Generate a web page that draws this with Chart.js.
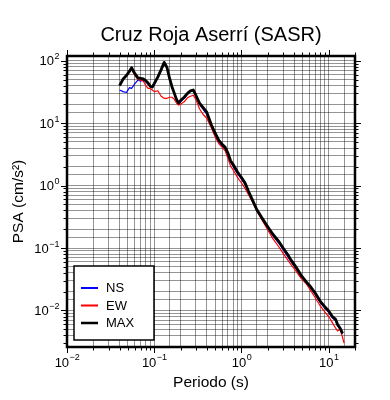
<!DOCTYPE html>
<html>
<head>
<meta charset="utf-8">
<script src="https://cdn.jsdelivr.net/npm/chart.js@4.4.0/dist/chart.umd.min.js"></script>
<style>
  html, body { margin: 0; padding: 0; background: #fff; }
</style>
</head>
<body>
<canvas id="psaChart" width="390" height="400"></canvas>
<script>
const chartTitle = 'Cruz Roja Aserrí (SASR)';
const xTitle = 'Periodo (s)';
const yTitle = 'PSA (cm/s²)';

// Periodos (s)
const periods = [0.040, 0.044, 0.048, 0.052, 0.055, 0.060, 0.065, 0.070, 0.075, 0.080,
  0.085, 0.090, 0.095, 0.100, 0.110, 0.120, 0.130, 0.140, 0.150, 0.160,
  0.170, 0.180, 0.190, 0.200, 0.220, 0.240, 0.260, 0.280, 0.300, 0.330,
  0.360, 0.40, 0.45, 0.50, 0.55, 0.60, 0.65, 0.70, 0.75, 0.80,
  0.90, 1.00, 1.10, 1.20, 1.35, 1.50, 1.70, 2.00, 2.30, 2.70,
  3.00, 3.40, 3.70, 4.20, 4.80, 5.50, 6.20, 7.00, 8.00, 9.00,
  10.0, 11.0, 12.0, 12.6, 13.5, 14.4, 15.0];

// PSA (cm/s2)
const nsValues = [34, 32, 31, 37, 36, 43, 49, 47, 50, 46,
  42, 38, 37, 42, 54, 70, 92, 76, 50, 37,
  29, 23, 20.5, 22, 25, 29, 32, 33, 27, 20,
  17, 14, 9.0, 6.5, 5.0, 4.3, 3.9, 3.1, 2.35, 2.05,
  1.55, 1.27, 1.03, 0.78, 0.55, 0.40, 0.30, 0.21, 0.157, 0.118,
  0.094, 0.073, 0.060, 0.047, 0.035, 0.028, 0.023, 0.018, 0.0133, 0.011,
  0.0093, 0.0076, 0.0068, 0.0057, 0.0050, 0.0042, null];

const ewValues = [40, 51, 58, 66, 72, 58, 50, 49, 47, 40,
  36, 36, 34, 32, 33, 27, 25, 25, 26, 26,
  24, 21, 19.5, 20, 22, 25.5, 27, 28, 24, 17,
  14, 12, 8.5, 6.0, 4.7, 4.1, 3.6, 2.7, 2.05, 1.8,
  1.35, 1.1, 0.9, 0.72, 0.53, 0.39, 0.29, 0.195, 0.14, 0.103,
  0.082, 0.064, 0.054, 0.043, 0.033, 0.027, 0.021, 0.016, 0.0118, 0.0095,
  0.0080, 0.0064, 0.0052, 0.0047, 0.0050, 0.0037, 0.0030];

const maxValues = [40, 51, 58, 68, 77, 62, 53, 52, 51, 48,
  44, 39, 38, 43, 55, 72, 94, 78, 52, 38,
  30, 24, 21, 23, 26, 30, 33, 34, 28, 21,
  18, 15, 9.5, 6.9, 5.3, 4.6, 4.1, 3.3, 2.5, 2.2,
  1.65, 1.35, 1.1, 0.82, 0.57, 0.41, 0.31, 0.22, 0.165, 0.125,
  0.10, 0.078, 0.064, 0.050, 0.037, 0.029, 0.024, 0.019, 0.014, 0.0115,
  0.0098, 0.0080, 0.0072, 0.0060, 0.0052, 0.0043, null];

const xExponents = [-2, -1, 0, 1];
const yExponents = [-2, -1, 0, 1, 2];

const FONT = '"Liberation Sans", Arial, Helvetica, sans-serif';

function toPoints(values) {
    const pts = [];
    periods.forEach((t, i) => {
        if (values[i] !== null) pts.push({ x: t, y: values[i] });
    });
    return pts;
}

function tickValues(scale) {
    const vals = [];
    for (let e = -4; e <= 3; e++) {
        for (let m = 1; m <= 9; m++) {
            const v = m * Math.pow(10, e);
            if (v >= scale.min * 0.999 && v <= scale.max * 1.001) vals.push({ v: v, major: m === 1 });
        }
    }
    return vals;
}

// texto 10^n con exponente
function drawPower(ctx, e, x, y, align) {
    const base = '10';
    const sup = e < 0 ? '\u2212' + Math.abs(e) : String(e);
    ctx.font = '13px ' + FONT;
    const wb = ctx.measureText(base).width;
    ctx.font = '9px ' + FONT;
    const ws = ctx.measureText(sup).width;
    let left;
    if (align === 'center') left = x - (wb + ws) / 2;
    else left = x - (wb + ws);
    ctx.textAlign = 'left';
    ctx.textBaseline = 'middle';
    ctx.font = '13px ' + FONT;
    ctx.fillText(base, left, y);
    ctx.font = '9px ' + FONT;
    ctx.fillText(sup, left + wb + 0.5, y - 5);
}

const framePlugin = {
    id: 'framePlugin',
    afterDraw(chart) {
        const ctx = chart.ctx;
        const a = chart.chartArea;
        const xs = chart.scales.x;
        const ys = chart.scales.y;
        ctx.save();
        ctx.fillStyle = '#000';
        ctx.strokeStyle = '#000';

        // marcas exteriores
        ctx.lineWidth = 1;
        ctx.beginPath();
        tickValues(xs).forEach(t => {
            const px = Math.round(xs.getPixelForValue(t.v)) + 0.5;
            const len = t.major ? 6 : 3.5;
            ctx.moveTo(px, a.bottom); ctx.lineTo(px, a.bottom + len);
            ctx.moveTo(px, a.top); ctx.lineTo(px, a.top - len);
        });
        tickValues(ys).forEach(t => {
            const py = Math.round(ys.getPixelForValue(t.v)) + 0.5;
            const len = t.major ? 6 : 3.5;
            ctx.moveTo(a.left, py); ctx.lineTo(a.left - len, py);
            ctx.moveTo(a.right, py); ctx.lineTo(a.right + len, py);
        });
        ctx.stroke();

        // marco
        ctx.lineWidth = 2.5;
        ctx.strokeRect(a.left, a.top, a.right - a.left, a.bottom - a.top);

        // etiquetas
        xExponents.forEach(e => {
            drawPower(ctx, e, xs.getPixelForValue(Math.pow(10, e)), a.bottom + 16, 'center');
        });
        yExponents.forEach(e => {
            drawPower(ctx, e, a.left - 8, ys.getPixelForValue(Math.pow(10, e)) + 1, 'right');
        });

        // titulos
        ctx.textAlign = 'center';
        ctx.textBaseline = 'alphabetic';
        ctx.font = '20px ' + FONT;
        ctx.fillText(chartTitle, (a.left + a.right) / 2, 41);
        ctx.font = '15.5px ' + FONT;
        ctx.fillText(xTitle, (a.left + a.right) / 2, 387);
        ctx.save();
        ctx.translate(23, (a.top + a.bottom) / 2);
        ctx.rotate(-Math.PI / 2);
        ctx.fillText(yTitle, 0, 0);
        ctx.restore();

        // leyenda
        ctx.fillStyle = '#fff';
        ctx.fillRect(74, 266, 80, 74);
        ctx.lineWidth = 1.5;
        ctx.strokeStyle = '#000';
        ctx.strokeRect(74, 266, 80, 74);
        const legendOrder = ['NS', 'EW', 'MAX'];
        legendOrder.forEach((lbl, i) => {
            const ds = chart.data.datasets.find(d => d.label === lbl);
            const ly = 288 + i * 17.5;
            ctx.strokeStyle = ds.borderColor;
            ctx.lineWidth = lbl === 'MAX' ? 2.5 : 2;
            ctx.beginPath();
            ctx.moveTo(81, ly); ctx.lineTo(98, ly);
            ctx.stroke();
            ctx.fillStyle = '#000';
            ctx.font = '13px ' + FONT;
            ctx.textAlign = 'left';
            ctx.textBaseline = 'middle';
            ctx.fillText(lbl, 106, ly + 0.5);
        });
        ctx.restore();
    }
};

const ctx = document.getElementById('psaChart').getContext('2d');
new Chart(ctx, {
    type: 'line',
    data: {
        datasets: [
            { label: 'NS', data: toPoints(nsValues), borderColor: '#0000ff', borderWidth: 1.2, order: 3 },
            { label: 'EW', data: toPoints(ewValues), borderColor: '#ff0000', borderWidth: 1.2, order: 2 },
            { label: 'MAX', data: toPoints(maxValues), borderColor: '#000000', borderWidth: 2.8, order: 1 }
        ]
    },
    options: {
        responsive: false,
        animation: false,
        layout: { padding: { top: 56, right: 35, left: 0, bottom: 0 } },
        elements: {
            point: { radius: 0 },
            line: { tension: 0, fill: false, borderJoinStyle: 'round' }
        },
        plugins: {
            legend: { display: false },
            title: { display: false },
            tooltip: { enabled: false }
        },
        scales: {
            x: {
                type: 'logarithmic',
                min: 0.01,
                max: 20,
                afterFit: scale => { scale.height = 53; },
                ticks: { display: false, autoSkip: false },
                grid: { color: 'rgba(0,0,0,0.42)', lineWidth: 1, drawTicks: false },
                border: { display: false }
            },
            y: {
                type: 'logarithmic',
                min: 0.0026,
                max: 119,
                afterFit: scale => { scale.width = 67; },
                ticks: { display: false, autoSkip: false },
                grid: { color: 'rgba(0,0,0,0.42)', lineWidth: 1, drawTicks: false },
                border: { display: false }
            }
        }
    },
    plugins: [framePlugin]
});
</script>
</body>
</html>
